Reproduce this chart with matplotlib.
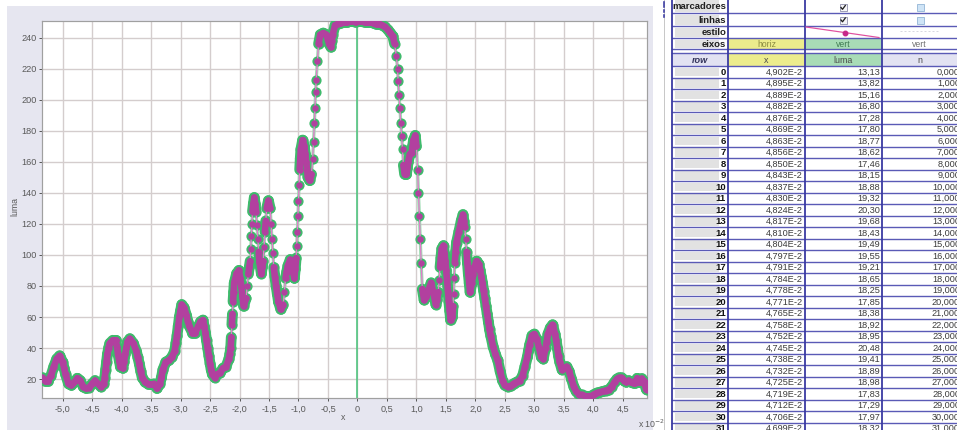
import matplotlib
matplotlib.use("Agg")
import matplotlib.pyplot as plt
from matplotlib.patches import Rectangle
from matplotlib.collections import LineCollection
import numpy as np

plt.rcParams["font.family"] = ["Liberation Sans", "DejaVu Sans"]

# ---------------- data ----------------
# luma profile (x in units of 1e-2), scanned from the left edge
scan_x = [-5.34, -5.30, -5.25, -5.20, -5.15, -5.10, -5.05, -5.00, -4.975, -4.95,
          -4.90, -4.85, -4.80, -4.75, -4.70, -4.65, -4.60, -4.55, -4.50, -4.45,
          -4.40, -4.35, -4.30, -4.285, -4.27, -4.255, -4.24, -4.22, -4.20, -4.15,
          -4.10, -4.08, -4.06, -4.04, -4.02, -3.98, -3.96, -3.94, -3.92, -3.90,
          -3.86, -3.80, -3.75, -3.725, -3.70, -3.675, -3.65, -3.60, -3.55, -3.50,
          -3.45, -3.40, -3.35, -3.325, -3.30, -3.25, -3.20, -3.15, -3.10, -3.08,
          -3.06, -3.04, -3.02, -3.00, -2.98, -2.94, -2.90, -2.875, -2.85, -2.80,
          -2.75, -2.70, -2.66, -2.62, -2.60, -2.58, -2.56, -2.54, -2.52, -2.50,
          -2.48, -2.46, -2.42, -2.38, -2.33, -2.28, -2.23, -2.18, -2.165, -2.15,
          -2.14, -2.13, -2.12, -2.11, -2.10, -2.09, -2.05, -2.01, -1.99, -1.97,
          -1.95, -1.93, -1.89, -1.87, -1.85, -1.835, -1.82, -1.81, -1.80, -1.79,
          -1.78, -1.765, -1.75, -1.735, -1.72, -1.705, -1.69, -1.675, -1.66, -1.63,
          -1.615, -1.60, -1.585, -1.57, -1.555, -1.54, -1.51, -1.48, -1.465, -1.45,
          -1.435, -1.42, -1.40, -1.38, -1.36, -1.34, -1.30, -1.26, -1.24, -1.22,
          -1.20, -1.18, -1.14, -1.10, -1.07, -1.055, -1.04, -1.03, -1.02, -1.01,
          -1.00, -0.99, -0.98, -0.97, -0.96, -0.93, -0.90, -0.885, -0.87, -0.855,
          -0.84, -0.81, -0.78, -0.76, -0.745, -0.73, -0.72, -0.71, -0.70, -0.68,
          -0.66, -0.63, -0.58, -0.53, -0.48, -0.45, -0.435, -0.42, -0.38, -0.33,
          -0.28, -0.23, -0.18, -0.13, -0.08, -0.03, 0.02, 0.07, 0.12, 0.17,
          0.22, 0.27, 0.32, 0.37, 0.42, 0.47, 0.52, 0.56, 0.60, 0.63,
          0.66, 0.68, 0.69, 0.705, 0.72, 0.735, 0.75, 0.765, 0.78, 0.80,
          0.83, 0.845, 0.86, 0.89, 0.92, 0.935, 0.95, 0.98, 1.00, 1.02,
          1.035, 1.05, 1.065, 1.08, 1.10, 1.13, 1.17, 1.21, 1.25, 1.29,
          1.33, 1.35, 1.37, 1.385, 1.40, 1.415, 1.43, 1.46, 1.475, 1.49,
          1.505, 1.52, 1.535, 1.55, 1.565, 1.58, 1.61, 1.62, 1.63, 1.64,
          1.65, 1.665, 1.68, 1.72, 1.76, 1.79, 1.805, 1.82, 1.835, 1.85,
          1.865, 1.88, 1.895, 1.91, 1.94, 1.96, 1.98, 2.02, 2.06, 2.08,
          2.10, 2.12, 2.14, 2.16, 2.18, 2.20, 2.22, 2.24, 2.26, 2.30,
          2.34, 2.38, 2.42, 2.46, 2.50, 2.55, 2.60, 2.65, 2.70, 2.75,
          2.80, 2.84, 2.88, 2.90, 2.92, 2.96, 3.00, 3.04, 3.08, 3.12,
          3.15, 3.19, 3.21, 3.23, 3.27, 3.31, 3.35, 3.37, 3.39, 3.41,
          3.43, 3.47, 3.51, 3.55, 3.59, 3.63, 3.67, 3.71, 3.76, 3.81,
          3.86, 3.91, 3.96, 4.01, 4.06, 4.11, 4.16, 4.21, 4.26, 4.31,
          4.36, 4.40, 4.44, 4.48, 4.52, 4.56, 4.60, 4.64, 4.68]
scan_luma = [21, 19, 19, 22, 28, 33, 35, 31, 27, 23,
             17, 16, 18, 20.5, 19, 15, 14, 14.5, 17, 19,
             17, 15, 17, 21, 26, 31, 36, 40, 43, 45,
             45, 41, 36, 32, 28, 27, 31, 36, 40, 44,
             46, 43, 38, 34, 30, 25, 21, 18, 17, 17,
             17, 14, 17, 21, 26, 31, 32, 34, 38, 43,
             48, 54, 60, 64, 68, 66, 61, 57, 54, 50,
             50, 54, 57, 58, 54, 50, 45, 40, 35, 30,
             26, 23, 21, 23, 24, 27, 28, 33, 36, 40,
             47, 55, 62, 70, 76, 82, 88, 90, 85, 80,
             73, 67, 72, 80, 88, 92, 96, 104, 112, 120,
             128, 133, 137, 133, 128, 119, 110, 102, 95, 88,
             92, 96, 105, 115, 122, 130, 135, 130, 120, 110,
             101, 92, 86, 80, 75, 70, 65, 68, 76, 85,
             89, 93, 97, 90, 85, 91, 98, 106, 115, 125,
             135, 145, 155, 162, 168, 174, 170, 165, 160, 155,
             150, 148, 152, 162, 173, 185, 195, 205, 213, 225,
             236, 242, 243, 242, 236, 234, 238, 242, 248, 249,
             249.5, 250, 250, 250.5, 250.5, 250, 250.5, 250.5, 250, 250,
             250, 249.5, 249, 249, 248, 247, 245, 243, 241, 236,
             228, 220, 212, 203, 195, 185, 177, 168, 158, 152,
             152, 156, 160, 165, 166, 170, 174, 177, 170, 155,
             140, 125, 110, 95, 78, 71, 73, 78, 82, 75,
             68, 71, 76, 84, 92, 98, 104, 106, 101, 96,
             90, 84, 77, 70, 64, 58, 60, 67, 75, 85,
             95, 102, 108, 115, 122, 126, 122, 118, 110, 102,
             95, 88, 82, 76, 82, 87, 92, 96, 94, 90,
             86, 82, 77, 72, 67, 62, 57, 52, 48, 41,
             36, 32, 25, 19, 16, 15, 15.5, 17, 18, 19,
             22, 28, 34, 38, 42, 48, 49, 46, 40, 34,
             33, 40, 44, 49, 53, 55, 49, 45, 40, 35,
             31, 26, 27, 28, 25, 20, 15, 12, 10, 10,
             9, 9, 9, 10, 11, 11.5, 12, 12.5, 13, 15,
             18, 20, 21, 21, 19, 18, 19, 18, 17.5]

# spreadsheet rows (first rows of the data table)
row_index = list(range(32))
row_x = [4.902, 4.895, 4.889, 4.882, 4.876, 4.869, 4.863, 4.856, 4.850, 4.843,
         4.837, 4.830, 4.824, 4.817, 4.810, 4.804, 4.797, 4.791, 4.784, 4.778,
         4.771, 4.765, 4.758, 4.752, 4.745, 4.738, 4.732, 4.725, 4.719, 4.712,
         4.706, 4.699]
row_luma = [13.13, 13.82, 15.16, 16.80, 17.28, 17.80, 18.77, 18.62, 17.46, 18.15,
            18.88, 19.32, 20.30, 19.68, 18.43, 19.49, 19.55, 19.21, 18.65, 18.25,
            17.85, 18.38, 18.92, 18.95, 20.48, 19.41, 18.89, 18.98, 17.83, 17.29,
            17.97, 18.32]

xtick_vals = [-5.0, -4.5, -4.0, -3.5, -3.0, -2.5, -2.0, -1.5, -1.0, -0.5,
              0.0, 0.5, 1.0, 1.5, 2.0, 2.5, 3.0, 3.5, 4.0, 4.5]
xtick_labels = ["-5,0", "-4,5", "-4,0", "-3,5", "-3,0", "-2,5", "-2,0", "-1,5",
                "-1,0", "-0,5", "0", "0,5", "1,0", "1,5", "2,0", "2,5", "3,0",
                "3,5", "4,0", "4,5"]
ytick_vals = [20, 40, 60, 80, 100, 120, 140, 160, 180, 200, 220, 240]

top_row_names = ["marcadores", "linhas", "estilo", "eixos"]
axis_roles = ["horiz", "vert", "vert"]
col_names = ["x", "luma", "n"]

# ---------------- figure ----------------
W, H = 957, 430
PX = 0.72  # points per pixel at 100 dpi
fig = plt.figure(figsize=(W / 100, H / 100), dpi=100)
fig.patch.set_facecolor("white")

bg = fig.add_axes([0, 0, 1, 1])
bg.set_xlim(0, W)
bg.set_ylim(H, 0)
bg.axis("off")

# panel behind the graph
bg.add_patch(Rectangle((7, 6), 646, 430, color="#e6e6f0", lw=0, zorder=0))

# graph
L, R, T, B = 42.3, 646.5, 20.7, 397.7
ax = fig.add_axes([L / W, (H - B) / H, (R - L) / W, (B - T) / H])
ax.set_facecolor("white")
ax.set_xlim(-5.345, 4.902)
ax.set_ylim(8.0, 251.0)

cx = np.array(scan_x + row_x[::-1])
cy = np.array(scan_luma + row_luma[::-1])

GREEN = "#3fba6c"
MAG = "#b2409f"
PINK = "#e27ccb"

# closely spaced samples merge into a solid band; widely spaced ones stay as dots
pts = np.column_stack([cx, cy])
pix = ax.transData.transform(pts)
seg_len = np.hypot(np.diff(pix[:, 0]), np.diff(pix[:, 1]))
segs = np.stack([pts[:-1], pts[1:]], axis=1)
dense = segs[seg_len < 12.0]
sparse = segs[seg_len >= 12.0]

ax.add_collection(LineCollection(sparse, colors="#9ddcb2", linewidths=3.2 * PX,
                                 capstyle="round", zorder=3))
ax.add_collection(LineCollection(dense, colors=GREEN, linewidths=10.8 * PX,
                                 capstyle="round", joinstyle="round", zorder=3.05))
ax.plot(cx, cy, ls="none", marker="o", ms=10.2 * PX, mfc=GREEN, mec=GREEN, mew=0, zorder=3.1)
ax.plot(cx, cy, color=PINK, lw=1.3 * PX, zorder=3.2)
ax.add_collection(LineCollection(dense, colors=MAG, linewidths=6.6 * PX,
                                 capstyle="round", joinstyle="round", zorder=3.25))
ax.plot(cx, cy, ls="none", marker="o", ms=6.4 * PX, mfc=MAG, mec=MAG, mew=0, zorder=3.3)

ax.axvline(0, color="#4cc47c", lw=1.6 * PX, zorder=2.5)

ax.set_xticks(xtick_vals)
ax.set_xticklabels(xtick_labels)
ax.set_yticks(ytick_vals)
ax.grid(True, color="#d4cdcd", lw=1.4 * PX)
ax.set_axisbelow(True)
ax.tick_params(axis="both", labelsize=6.6, colors="#5a5a5a", length=3 * PX,
               width=1 * PX, pad=3)
ax.tick_params(axis="y", pad=2)
for s in ax.spines.values():
    s.set_color("#a0a0a0")
    s.set_linewidth(1.2 * PX)

bg.text(343, 417, "x", fontsize=6.3, color="#5a5a5a", ha="center", va="center")
bg.text(15, 207, "luma", fontsize=6.3, color="#5a5a5a", ha="center", va="center",
        rotation=90)
bg.text(638, 424, "x 10$^{-2}$", fontsize=6.3, color="#5a5a5a", ha="left", va="center")

# ---------------- data table ----------------
CX0, CX1, CX2, CX3, CX4 = 672, 728, 805, 882, 962
LINE = "#5a5ab6"
VLINE = "#3a3aa2"
HEADGRAY = "#e2e2e2"
YELLOW = "#ecec8c"
MINT = "#a8dcb6"
LAV = "#e2e2f2"

top_edges = [-2, 13.3, 26.0, 38.3, 49.3]
head_top, head_bot = 53.3, 66.0
row_h = 11.5

# left strip
bg.plot([664, 664], [0, H], color="#c8c8c8", lw=1 * PX, zorder=1)
bg.plot([664, 664], [2, 7], color="#3a3aa2", lw=1.6 * PX, zorder=2)
bg.plot([664, 664], [10, 12], color="#3a3aa2", lw=1.6 * PX, zorder=2)
bg.plot([664, 664], [15, 17], color="#3a3aa2", lw=1.6 * PX, zorder=2)

# top property rows
for i, name in enumerate(top_row_names):
    y0, y1 = top_edges[i], top_edges[i + 1]
    yc = (y0 + y1) / 2 + 0.5
    bg.add_patch(Rectangle((CX0 + 3, y0 + 1.5), 44, y1 - y0 - 3, color=HEADGRAY, lw=0, zorder=1))
    bg.text(CX1 - 2, yc, name, fontsize=6.8, fontweight="bold", color="#1e1e1e",
            ha="right", va="center", zorder=3)

# eixos row fills
y0, y1 = top_edges[3], top_edges[4]
bg.add_patch(Rectangle((CX1, y0), CX2 - CX1, y1 - y0, color=YELLOW, lw=0, zorder=1))
bg.add_patch(Rectangle((CX2, y0), CX3 - CX2, y1 - y0, color=MINT, lw=0, zorder=1))
for (xa, xb), role, col in zip([(CX1, CX2), (CX2, CX3), (CX3, 957)], axis_roles,
                               ["#8a8a40", "#3e7a52", "#707070"]):
    bg.text((xa + xb) / 2, (y0 + y1) / 2 + 0.5, role, fontsize=6.2, color=col,
            ha="center", va="center", zorder=3)


def checkbox(xc, yc, checked):
    if checked:
        bg.add_patch(Rectangle((xc - 3.5, yc - 3.5), 7, 7, facecolor="#f4f4f8",
                               edgecolor="#8a8aa8", lw=0.8 * PX, zorder=3))
        bg.plot([xc - 2, xc - 0.5, xc + 2.3], [yc, yc + 1.8, yc - 2], color="#202020",
                lw=1.3 * PX, zorder=4)
    else:
        bg.add_patch(Rectangle((xc - 3.5, yc - 3.5), 7, 7, facecolor="#cfe4f6",
                               edgecolor="#8fb2d4", lw=0.8 * PX, zorder=3))


checkbox(843, 7.5, True)
checkbox(920, 7.5, False)
checkbox(843, 20, True)
checkbox(920, 20, False)

# line style preview
bg.plot([CX2 + 1, CX3 - 3], [27, 37.5], color="#e0509f", lw=1.2 * PX, zorder=3)
bg.plot([845], [32.6], marker="o", ms=4.5 * PX, color="#c8288a", zorder=4)
bg.plot([900, 940], [31, 31], color="#d8d8e0", lw=1 * PX, ls=(0, (2, 2)), zorder=3)

# header row
for (xa, xb), fc in zip([(CX0, CX1), (CX1, CX2), (CX2, CX3), (CX3, CX4)],
                        [LAV, YELLOW, MINT, LAV]):
    bg.add_patch(Rectangle((xa, head_top), xb - xa, head_bot - head_top, color=fc,
                           lw=0, zorder=1))
hc = (head_top + head_bot) / 2 + 0.5
bg.text((CX0 + CX1) / 2, hc, "row", fontsize=6.6, fontweight="bold", style="italic",
        color="#33335a", ha="center", va="center", zorder=3)
for (xa, xb), name in zip([(CX1, CX2), (CX2, CX3), (CX3, 957)], col_names):
    bg.text((xa + xb) / 2, hc, name, fontsize=6.4, color="#4a4a4a", ha="center",
            va="center", zorder=3)

# data rows
for r, xv, lv in zip(row_index, row_x, row_luma):
    y0 = head_bot + r * row_h
    yc = y0 + row_h / 2 + 0.3
    bg.add_patch(Rectangle((CX0 + 3, y0 + 1.5), 44, row_h - 3, color=HEADGRAY, lw=0, zorder=1))
    bg.text(CX1 - 2, yc, str(r), fontsize=6.8, fontweight="bold", color="#111111",
            ha="right", va="center", zorder=3)
    bg.text(CX2 - 2, yc, f"{xv:.3f}".replace(".", ",") + "E-2", fontsize=6.6,
            color="#3c3c3c", ha="right", va="center", zorder=3)
    bg.text(CX3 - 2, yc, f"{lv:.2f}".replace(".", ","), fontsize=6.6,
            color="#3c3c3c", ha="right", va="center", zorder=3)
    bg.text(960, yc, f"{r:.3f}".replace(".", ","), fontsize=6.6,
            color="#3c3c3c", ha="right", va="center", zorder=3)

# grid lines of the table
hlines = top_edges[1:] + [head_top, head_bot] + \
    [head_bot + (r + 1) * row_h for r in row_index]
for yl in hlines:
    bg.plot([CX0, 960], [yl, yl], color=LINE, lw=1.4 * PX, zorder=2)
for xl in [CX0, CX1, CX2, CX3]:
    bg.plot([xl, xl], [0, H], color=VLINE, lw=1.8 * PX, zorder=2.2)

fig.savefig("out.png", dpi=100)
